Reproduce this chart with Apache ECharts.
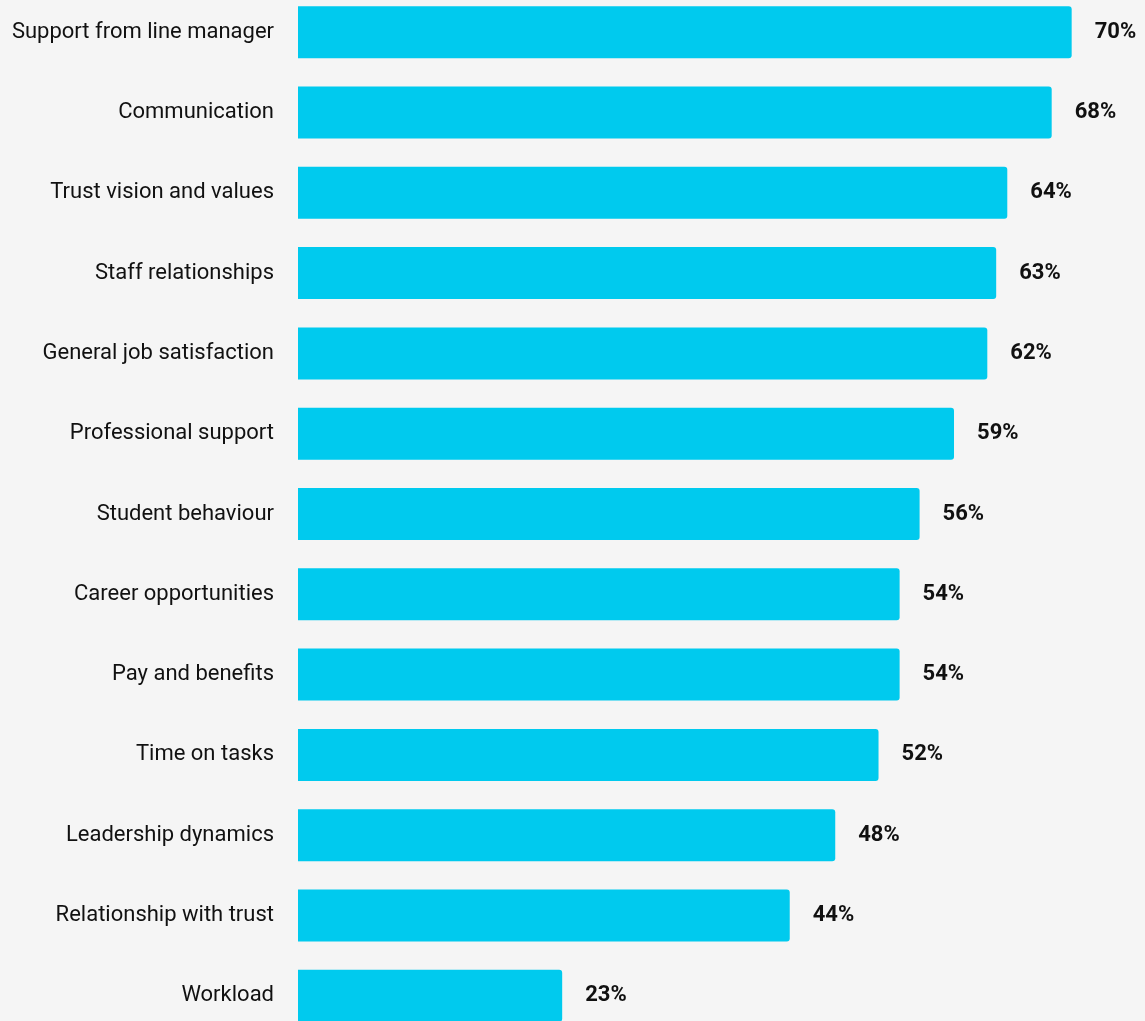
<!DOCTYPE html>
<html><head><meta charset="utf-8">
<script src="https://cdn.jsdelivr.net/npm/echarts@6/dist/echarts.min.js"></script>
<style>html,body{margin:0;padding:0;background:#f5f5f5;overflow:hidden;}#c{width:1145px;height:1044px;margin-top:-8px;}</style>
</head><body><div id="c"></div>
<script>
var categories = ["Support from line manager","Communication","Trust vision and values","Staff relationships","General job satisfaction","Professional support","Student behaviour","Career opportunities","Pay and benefits","Time on tasks","Leadership dynamics","Relationship with trust","Workload"];
var values = [69.7, 67.9, 63.9, 62.9, 62.1, 59.1, 56.0, 54.2, 54.2, 52.3, 48.4, 44.3, 23.8];
var valueLabels = ["70%","68%","64%","63%","62%","59%","56%","54%","54%","52%","48%","44%","23%"];
var chart = echarts.init(document.getElementById('c'));
chart.setOption({
  backgroundColor: '#f5f5f5',
  animation: false,
  grid: {left: 298, right: 14.5, top: 0, bottom: 0, containLabel: false},
  xAxis: {type: 'value', min: 0, max: 75, show: false},
  yAxis: {type: 'category', data: categories, inverse: true,
    axisLine: {show: false}, axisTick: {show: false}, splitLine: {show: false},
    axisLabel: {margin: 24, fontFamily: 'Roboto', fontSize: 22, color: '#111', padding: [2, 0, 0, 0]}},
  series: [{type: 'bar', data: values, barWidth: 52,
    itemStyle: {color: '#00caee', borderRadius: [0, 3, 3, 0]},
    label: {show: true, position: 'right', distance: 23, fontFamily: 'Roboto', fontWeight: 'bold', fontSize: 22, color: '#111', padding: [2, 0, 0, 0],
      formatter: function(p){ return valueLabels[p.dataIndex]; }}}]
});
</script></body></html>
